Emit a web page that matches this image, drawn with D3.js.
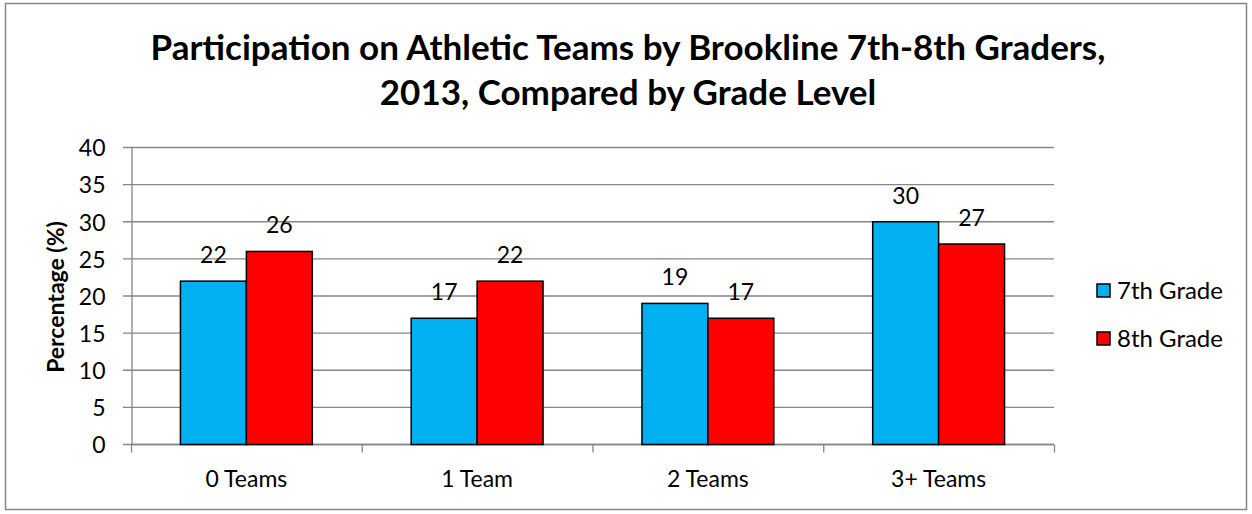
<!DOCTYPE html>
<html><head><meta charset="utf-8">
<script src="https://cdn.jsdelivr.net/npm/d3@7"></script>
<style>body{margin:0;background:#fff}svg{display:block}text{font-family:Lato,"Open Sans",sans-serif}</style>
</head><body>
<svg id="c" width="1252" height="514"></svg>
<script>
const categories = ["0 Teams","1 Team","2 Teams","3+ Teams"];
const seriesNames = ["7th Grade","8th Grade"];
const grade7 = [22,17,19,30];
const grade8 = [26,22,17,27];
const yTicks = [0,5,10,15,20,25,30,35,40];
const colors = ["#00B0F0","#FF0000"];
const titleLines = ["Participation on Athletic Teams by Brookline 7th-8th Graders,","2013, Compared by Grade Level"];

const svg = d3.select("#c");
svg.append("rect").attr("x",5.5).attr("y",3.5).attr("width",1241).attr("height",506)
  .attr("fill","#fff").attr("stroke","#868686").attr("stroke-width",1.5);

const L=131, R=1054, T=147.5, B=444.5;
const x = d3.scaleBand().domain(categories).range([L,R]).paddingInner(0).paddingOuter(0);
const xi = d3.scaleBand().domain(seriesNames).range([0,x.bandwidth()]).paddingInner(0).paddingOuter(0.75);
const y = d3.scaleLinear().domain([0,40]).range([B,T]);

// gridlines
svg.append("g").selectAll("line").data(yTicks).join("line")
  .attr("x1",L-8).attr("x2",R).attr("y1",d=>y(d)).attr("y2",d=>y(d))
  .attr("stroke","#868686").attr("stroke-width",1.3);

// y axis
const ya = svg.append("g").attr("transform",`translate(${L+0.5},0)`)
  .call(d3.axisLeft(y).tickValues(yTicks).tickSize(0).tickPadding(26));
ya.select(".domain").attr("stroke","#868686").attr("stroke-width",1.3);
ya.selectAll("text").attr("font-size",23).attr("fill","#000").attr("dy","0.36em");

// x axis
const xa = svg.append("g").attr("transform",`translate(0,${B})`)
  .call(d3.axisBottom(x).tickSize(0).tickPadding(26));
xa.select(".domain").remove();
xa.selectAll("text").attr("font-size",23).attr("fill","#000");
svg.append("line").attr("x1",L).attr("x2",R).attr("y1",B).attr("y2",B).attr("stroke","#868686").attr("stroke-width",1.3);
const bounds = categories.map(c=>x(c)).concat([R]);
svg.append("g").selectAll("line").data(bounds).join("line")
  .attr("x1",d=>d+0.5).attr("x2",d=>d+0.5).attr("y1",B).attr("y2",B+8)
  .attr("stroke","#868686").attr("stroke-width",1.3);

// bars
const data = [grade7, grade8];
const g = svg.append("g");
seriesNames.forEach((s,si)=>{
  g.append("g").selectAll("rect").data(categories).join("rect")
    .attr("x",c=>x(c)+xi(s)).attr("width",xi.bandwidth())
    .attr("y",(c,i)=>y(data[si][i])).attr("height",(c,i)=>B-y(data[si][i]))
    .attr("fill",colors[si]).attr("stroke","#000").attr("stroke-width",1.5);
  g.append("g").selectAll("text").data(categories).join("text")
    .attr("x",c=>x(c)+xi(s)+xi.bandwidth()/2).attr("y",(c,i)=>y(data[si][i])-18)
    .attr("text-anchor","middle").attr("font-size",23).attr("fill","#000")
    .text((c,i)=>data[si][i]);
});

// y label
svg.append("text").attr("transform","translate(64,297) rotate(-90)")
  .attr("text-anchor","middle").attr("font-size",23).attr("font-weight","bold").text("Percentage (%)");

// title
svg.append("g").selectAll("text").data(titleLines).join("text")
  .attr("x",628).attr("y",(d,i)=>60+i*45).attr("text-anchor","middle")
  .attr("font-size",35).attr("font-weight","bold").text(d=>d);

// legend
const lg = svg.append("g").selectAll("g").data(seriesNames).join("g")
  .attr("transform",(d,i)=>`translate(1097,${284+i*48})`);
lg.append("rect").attr("width",13).attr("height",13).attr("fill",(d,i)=>colors[i]).attr("stroke","#000").attr("stroke-width",1.5);
lg.append("text").attr("x",20).attr("y",6.5).attr("dy","0.36em").attr("font-size",24).text(d=>d);
</script>
</body></html>
